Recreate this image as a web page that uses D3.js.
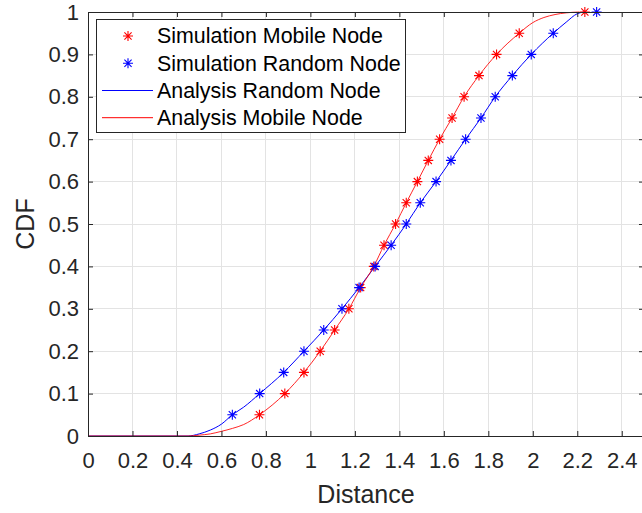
<!DOCTYPE html>
<html>
<head>
<meta charset="utf-8">
<script src="https://cdn.jsdelivr.net/npm/d3@7"></script>
<style>
  html, body { margin: 0; padding: 0; background: #fff; }
  svg { display: block; font-family: "Liberation Sans", Arial, sans-serif; }
</style>
</head>
<body>
<svg id="chart" width="642" height="513"></svg>
<script>
// CDF levels at which simulated distances were sampled
const simLevels = [0.05,0.1,0.15,0.2,0.25,0.3,0.35,0.4,0.45,0.5,0.55,0.6,0.65,0.7,0.75,0.8,0.85,0.9,0.95,1.0];
// Simulated distances (mobile node / random node) at those levels
const simMobileX = [0.771,0.885,0.971,1.044,1.109,1.173,1.226,1.285,1.331,1.383,1.431,1.481,1.530,1.581,1.637,1.691,1.758,1.837,1.939,2.234];
const simRandomX = [0.649,0.772,0.880,0.971,1.060,1.142,1.219,1.291,1.363,1.431,1.494,1.565,1.632,1.698,1.767,1.831,1.908,1.993,2.092,2.287];

// Analytical CDF curves
const anaRandomX = [0,0.45,0.5,0.55,0.6,0.649,0.7,0.772,0.88,0.971,1.06,1.142,1.219,1.291,1.363,1.431,1.494,1.565,1.632,1.698,1.767,1.831,1.908,1.993,2.092,2.15,2.2,2.23];
const anaRandomY = [0,0,0.005,0.014,0.028,0.05,0.068,0.1,0.15,0.2,0.25,0.3,0.35,0.4,0.45,0.5,0.55,0.6,0.65,0.7,0.75,0.8,0.85,0.9,0.95,0.976,0.996,1.0];
const anaMobileX = [0,0.45,0.5,0.55,0.6,0.65,0.7,0.771,0.885,0.971,1.044,1.109,1.173,1.226,1.285,1.331,1.383,1.431,1.481,1.530,1.581,1.637,1.691,1.758,1.837,1.939,2.0,2.05,2.1,2.15,2.21];
const anaMobileY = [0,0,0.002,0.005,0.011,0.018,0.027,0.05,0.1,0.15,0.2,0.25,0.3,0.35,0.4,0.45,0.5,0.55,0.6,0.65,0.7,0.75,0.8,0.85,0.9,0.95,0.975,0.987,0.994,0.998,1.0];

// Axis ticks
const xTicks = [0,0.2,0.4,0.6,0.8,1,1.2,1.4,1.6,1.8,2,2.2,2.4];
const xTickLabels = ["0","0.2","0.4","0.6","0.8","1","1.2","1.4","1.6","1.8","2","2.2","2.4"];
const yTicks = [0,0.1,0.2,0.3,0.4,0.5,0.6,0.7,0.8,0.9,1];
const yTickLabels = ["0","0.1","0.2","0.3","0.4","0.5","0.6","0.7","0.8","0.9","1"];

const legendLabels = ["Simulation Mobile Node","Simulation Random Node","Analysis Random Node","Analysis Mobile Node"];

const RED = "#ff0000", BLUE = "#0000ff", INK = "#262626", GRID = "#e3e3e3";

const svg = d3.select("#chart");
const L = 88, R = 644, T = 12, B = 436;
const x = d3.scaleLinear().domain([0, 2.5]).range([L, R]);
const y = d3.scaleLinear().domain([0, 1]).range([B, T]);

// grid
const grid = svg.append("g");
grid.selectAll(".gx").data(xTicks).enter().append("line")
  .attr("x1", d => x(d)).attr("x2", d => x(d)).attr("y1", T).attr("y2", B)
  .attr("stroke", GRID).attr("stroke-width", 1).attr("shape-rendering", "crispEdges");
grid.selectAll(".gy").data(yTicks).enter().append("line")
  .attr("x1", L).attr("x2", R).attr("y1", d => y(d)).attr("y2", d => y(d))
  .attr("stroke", GRID).attr("stroke-width", 1).attr("shape-rendering", "crispEdges");

// analytical curves
const line = d3.line().x(d => x(d[0])).y(d => y(d[1])).curve(d3.curveMonotoneX);
svg.append("path").datum(d3.zip(anaRandomX, anaRandomY)).attr("d", line)
  .attr("fill", "none").attr("stroke", BLUE).attr("stroke-width", 1);
svg.append("path").datum(d3.zip(anaMobileX, anaMobileY)).attr("d", line)
  .attr("fill", "none").attr("stroke", RED).attr("stroke-width", 1)
  .attr("stroke-opacity", 0.85);

// asterisk marker
function star(r) {
  const k = r * 0.72;
  return `M0,${-r}L0,${r}M${-r},0L${r},0M${-k},${-k}L${k},${k}M${-k},${k}L${k},${-k}`;
}
function drawStars(xs, ys, color) {
  svg.append("g").selectAll("path").data(d3.zip(xs, ys)).enter().append("path")
    .attr("transform", d => `translate(${x(d[0])},${y(d[1])})`)
    .attr("d", star(5)).attr("fill", "none").attr("stroke", color).attr("stroke-width", 1.1);
}
drawStars(simMobileX, simLevels, RED);
drawStars(simRandomX, simLevels, BLUE);

// axes (ticks pointing inward)
const fs = 22;
const xAxis = d3.axisBottom(x).tickValues(xTicks).tickFormat((d, i) => xTickLabels[i])
  .tickSize(-5).tickPadding(16);
const gx = svg.append("g").attr("transform", `translate(0,${B})`).call(xAxis);
const yAxis = d3.axisLeft(y).tickValues(yTicks).tickFormat((d, i) => yTickLabels[i])
  .tickSize(-5).tickPadding(9);
const gy = svg.append("g").attr("transform", `translate(${L},0)`).call(yAxis);
const gxTop = svg.append("g").attr("transform", `translate(0,${T})`)
  .call(d3.axisTop(x).tickValues(xTicks).tickFormat("").tickSize(-5));
const gyRight = svg.append("g").attr("transform", `translate(${R},0)`)
  .call(d3.axisRight(y).tickValues(yTicks).tickFormat("").tickSize(-5));
[gx, gy, gxTop, gyRight].forEach(g => {
  g.select(".domain").remove();
  g.selectAll(".tick line").attr("stroke", INK).attr("stroke-width", 1);
  g.selectAll("text").attr("fill", INK).style("font-size", fs + "px")
    .style("font-family", '"Liberation Sans", Arial, sans-serif');
});
// box
svg.append("rect").attr("x", L + 0.5).attr("y", T + 0.5).attr("width", R - L).attr("height", B - T)
  .attr("fill", "none").attr("stroke", INK).attr("stroke-width", 1);

// axis titles
svg.append("text").attr("x", (L + R) / 2).attr("y", 503).attr("text-anchor", "middle")
  .attr("fill", INK).style("font-size", "25px").text("Distance");
svg.append("text").attr("transform", `translate(34,${(T + B) / 2}) rotate(-90)`)
  .attr("text-anchor", "middle").attr("fill", INK).style("font-size", "25px").text("CDF");

// legend
const lg = svg.append("g");
lg.append("rect").attr("x", 96.5).attr("y", 19.5).attr("width", 309).attr("height", 113)
  .attr("fill", "#fff").attr("stroke", INK).attr("stroke-width", 1);
const rowY = [36, 63.3, 90.5, 117.7];
const kinds = [["star", RED], ["star", BLUE], ["line", BLUE], ["line", RED]];
kinds.forEach((k, i) => {
  if (k[0] === "star") {
    lg.append("path").attr("transform", `translate(128,${rowY[i]})`).attr("d", star(5))
      .attr("fill", "none").attr("stroke", k[1]).attr("stroke-width", 1.1);
  } else {
    lg.append("line").attr("x1", 102).attr("x2", 153).attr("y1", rowY[i]).attr("y2", rowY[i])
      .attr("stroke", k[1]).attr("stroke-width", 1);
  }
  lg.append("text").attr("x", 157).attr("y", rowY[i]).attr("dy", "0.35em")
    .attr("fill", "#000").style("font-size", "21.4px").text(legendLabels[i]);
});
</script>
</body>
</html>
